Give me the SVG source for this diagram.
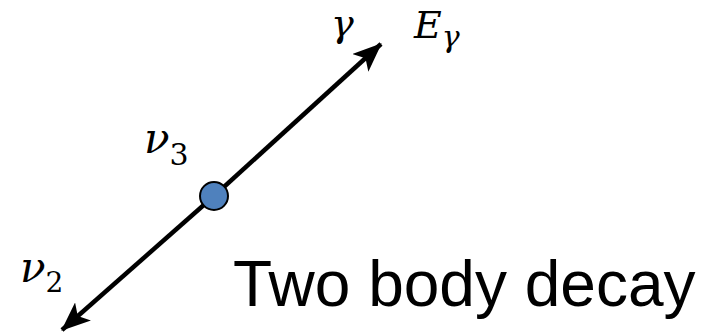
<svg xmlns="http://www.w3.org/2000/svg" width="714" height="332" viewBox="0 0 714 332">
<style>
.math{font-family:"DejaVu Serif","Liberation Serif",serif;font-style:italic;fill:#000}
.title{font-family:"Liberation Sans",Arial,sans-serif;font-size:64px;fill:#000}
.conn{stroke:#000;stroke-width:4.5;fill:none}
</style>
<defs>
<marker id="ah" markerUnits="userSpaceOnUse" markerWidth="30" markerHeight="24" refX="28" refY="12" orient="auto" viewBox="0 0 30 24">
<path d="M0,0 L29,12 L0,24 L7,12 Z" fill="#000"/>
</marker>
</defs>
<rect width="714" height="332" fill="#fff"/>
<g id="connectors">
<line class="conn" x1="214" y1="196" x2="381" y2="44" marker-end="url(#ah)"/>
<line class="conn" x1="214" y1="196" x2="62" y2="330" marker-end="url(#ah)"/>
</g>
<g id="decay-point">
<circle cx="214" cy="196" r="14" fill="#4F81BD" stroke="#000" stroke-width="2"/>
</g>
<g id="labels">
<text class="math" x="331" y="36" font-size="38">γ</text>
<text class="math" x="414" y="38" font-size="38">E<tspan font-size="30" dy="9">γ</tspan></text>
<text class="math" x="144" y="153" font-size="42">ν<tspan font-style="normal" font-size="30" dy="12">3</tspan></text>
<text class="math" x="20" y="282" font-size="42">ν<tspan font-style="normal" font-size="28" dy="10">2</tspan></text>
<text class="title" x="233" y="306">Two body decay</text>
</g>
</svg>
